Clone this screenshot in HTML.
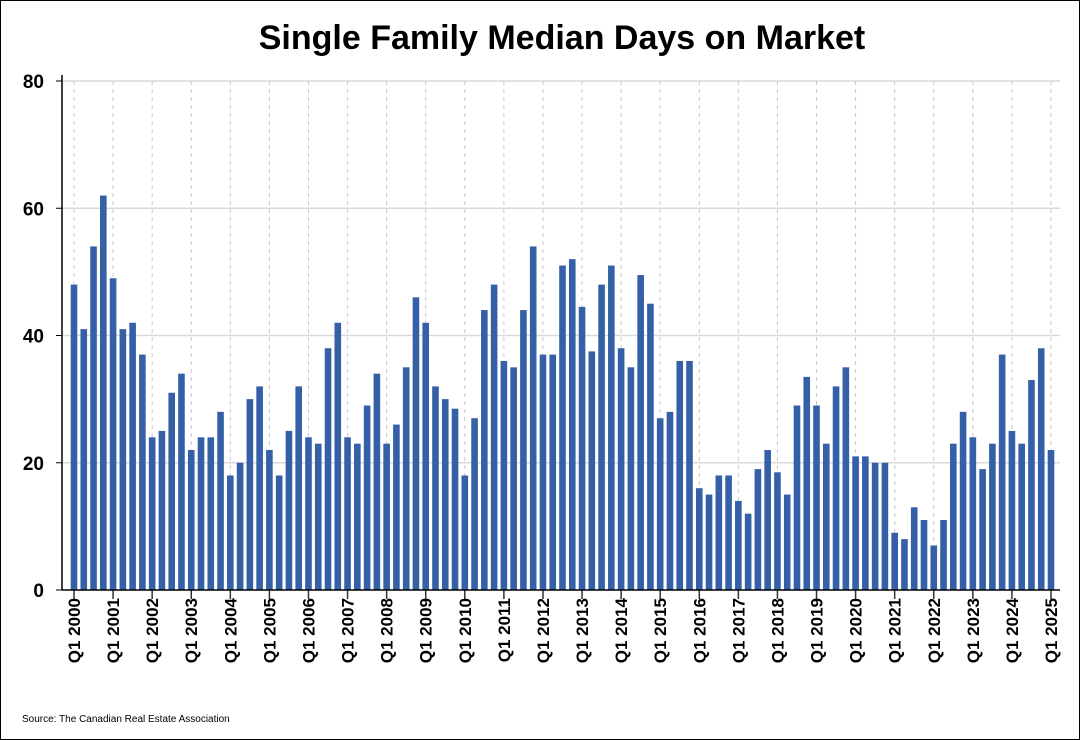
<!DOCTYPE html>
<html><head><meta charset="utf-8"><style>
html,body{margin:0;padding:0;background:#fff;}
svg{display:block;font-family:"Liberation Sans",Arial,sans-serif;}
</style></head><body>
<svg id="chart" width="1080" height="740" viewBox="0 0 1080 740">
<rect x="0.5" y="0.5" width="1079" height="739" fill="#fff" stroke="#000"/>
<text x="562" y="49" text-anchor="middle" font-size="34" font-weight="bold">Single Family Median Days on Market</text>
<g id="grid"></g><g id="bars"></g><g id="axes"></g>
<text x="22" y="722" font-size="10">Source: The Canadian Real Estate Association</text>
</svg>
<script>
const years = [2000,2001,2002,2003,2004,2005,2006,2007,2008,2009,2010,2011,2012,2013,2014,2015,2016,2017,2018,2019,2020,2021,2022,2023,2024,2025];
const yTicks = [0,20,40,60,80];
const values = [
48,41,54,62, 49,41,42,37, 24,25,31,34, 22,24,24,28, 18,20,30,32,
22,18,25,32, 24,23,38,42, 24,23,29,34, 23,26,35,46, 42,32,30,28.5,
18,27,44,48, 36,35,44,54, 37,37,51,52, 44.5,37.5,48,51, 38,35,49.5,45,
27,28,36,36, 16,15,18,18, 14,12,19,22, 18.5,15,29,33.5, 29,23,32,35,
21,21,20,20, 9,8,13,11, 7,11,23,28, 24,19,23,37, 25,23,33,38, 22];
const NS="http://www.w3.org/2000/svg";
const x0=74, x1=1051, y0=590, yTop=81;
const n=(years.length-1)*4;
function xs(i){return x0+(x1-x0)*i/n;}
function ys(v){return y0-(y0-yTop)*v/80;}
function mk(tag,attrs,parent){const e=document.createElementNS(NS,tag);for(const k in attrs)e.setAttribute(k,attrs[k]);parent.appendChild(e);return e;}
const grid=document.getElementById('grid'),bars=document.getElementById('bars'),axes=document.getElementById('axes');
yTicks.forEach(t=>{
  if(t>0){const l=mk('line',{x1:62,x2:1060,y1:ys(t),y2:ys(t),stroke:'#d9d9d9','stroke-width':1.5},grid);
  
  }
  const tk=mk('line',{x1:56,x2:62,y1:ys(t),y2:ys(t),stroke:'#000'},axes);
  
  
  const tx=mk('text',{x:44,y:ys(t)+7,'text-anchor':'end','font-size':19,'font-weight':'bold'},axes);
  tx.textContent=t;
  
  
});
years.forEach((yr,k)=>{
  const x=xs(k*4);
  const g=mk('line',{x1:x,x2:x,y1:yTop,y2:y0,stroke:'#c8c8c8','stroke-dasharray':'4,4'},grid);
  
  
  const tk=mk('line',{x1:x,x2:x,y1:y0,y2:y0+9,stroke:'#333','stroke-width':1.5},axes);
  
  
  const tx=mk('text',{x:0,y:0,'text-anchor':'end','font-size':17,'font-weight':'bold',transform:`translate(${x+6},598) rotate(-90)`},axes);
  tx.textContent='Q1 '+yr;
  
  
});
values.forEach((v,i)=>{
  const r=mk('rect',{x:xs(i)-3.3,y:ys(v),width:6.6,height:y0-ys(v),fill:'#3560a8'},bars);
  
  
});
const ya=mk('line',{x1:62,x2:62,y1:75,y2:y0,stroke:'#000','stroke-width':1.5},axes);


const xa=mk('line',{x1:62,x2:1060,y1:y0,y2:y0,stroke:'#000','stroke-width':1.5},axes);


</script>
</body></html>
